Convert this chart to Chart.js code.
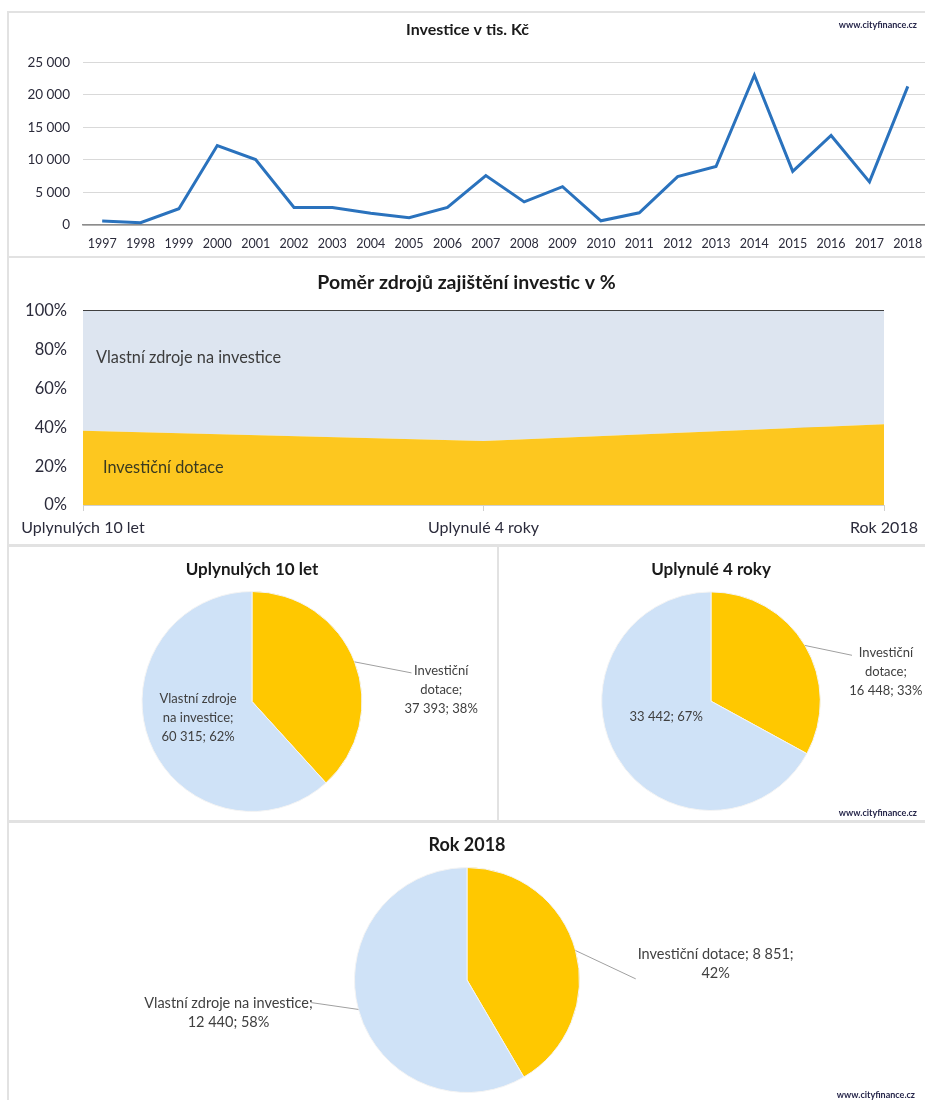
<!DOCTYPE html>
<html>
<head>
<meta charset="utf-8">
<script src="https://cdn.jsdelivr.net/npm/chart.js@4"></script>
<style>
  html, body { margin: 0; padding: 0; background: #fff; overflow: hidden; }
  body { width: 925px; height: 1100px; position: relative; font-family: Lato, "Open Sans", sans-serif; }
  .panel { position: absolute; border: 2px solid #e2e2e2; box-sizing: border-box; }
  canvas { position: absolute; }
  .wm { position: absolute; font: bold 9px Lato, sans-serif; color: #26264a; white-space: nowrap; }
</style>
</head>
<body>
<div class="panel" style="left:7px;top:11px;width:930px;height:247px"></div>
<div class="panel" style="left:7px;top:256px;width:930px;height:291px"></div>
<div class="panel" style="left:7px;top:544px;width:492px;height:279px"></div>
<div class="panel" style="left:497px;top:544px;width:440px;height:279px"></div>
<div class="panel" style="left:7px;top:820px;width:930px;height:290px"></div>

<canvas id="c1" width="920" height="244" style="left:8px;top:12px"></canvas>
<canvas id="c2" width="917" height="287" style="left:8px;top:258px"></canvas>
<canvas id="c3" width="489" height="273" style="left:8px;top:547px"></canvas>
<canvas id="c4" width="428" height="273" style="left:497px;top:547px"></canvas>
<canvas id="c5" width="917" height="278" style="left:8px;top:822px"></canvas>

<div class="wm" style="right:8px;top:19px">www.cityfinance.cz</div>
<div class="wm" style="right:8px;top:807px">www.cityfinance.cz</div>
<div class="wm" style="right:10px;top:1089px">www.cityfinance.cz</div>

<script>
// investice po letech (tis. Kč)
const years = ['1997','1998','1999','2000','2001','2002','2003','2004','2005','2006','2007',
               '2008','2009','2010','2011','2012','2013','2014','2015','2016','2017','2018'];
const investice = [600, 350, 2500, 12200, 10050, 2700, 2700, 1800, 1130, 2700, 7600,
                   3550, 5880, 650, 1880, 7430, 8980, 22998, 8230, 13740, 6629, 21291];

// zdroje financovani
const periods = ['Uplynulých 10 let', 'Uplynulé 4 roky', 'Rok 2018'];
const dotace = [37393, 16448, 8851];
const vlastni = [60315, 33442, 12440];
const sourceNames = ['Investiční dotace', 'Vlastní zdroje na investice'];

const YELLOW_AREA = '#fdc71f';
const BLUE_AREA = '#dde5f0';
const YELLOW_PIE = '#ffc800';
const BLUE_PIE = '#cfe2f7';
const TXT = '#404040';

Chart.defaults.font.family = 'Lato, "Open Sans", sans-serif';
Chart.defaults.color = TXT;
Chart.defaults.animation = false;

function fmt(n) {
  return String(n).replace(/\B(?=(\d{3})+(?!\d))/g, ' ');
}
function pct(a, b) { return a / (a + b) * 100; }

const dotacePct = dotace.map((d, i) => pct(d, vlastni[i]));
const vlastniPct = vlastni.map((v, i) => pct(v, dotace[i]));

// --- 1) line chart
new Chart(document.getElementById('c1'), {
  type: 'line',
  data: {
    labels: years,
    datasets: [{
      data: investice,
      borderColor: '#2a72bd',
      borderWidth: 3,
      pointRadius: 0,
      tension: 0,
      fill: false
    }]
  },
  options: {
    responsive: false,
    layout: { padding: { right: 1 } },
    plugins: {
      legend: { display: false },
      tooltip: { enabled: false },
      title: {
        display: true,
        text: 'Investice v tis. Kč',
        color: '#1a1a1a',
        font: { size: 16, weight: 'bold' },
        padding: { top: 8, bottom: 23 }
      }
    },
    scales: {
      x: {
        offset: true,
        grid: { display: false },
        border: { display: true, color: '#8c8c8c', width: 1.5 },
        ticks: { font: { size: 12.5 }, padding: 3, color: '#2b2b3b', maxRotation: 0, autoSkip: false },
        afterFit(s) { s.height = 31; }
      },
      y: {
        min: 0, max: 25000,
        grid: { color: '#d9d9d9', drawTicks: false },
        border: { display: false },
        ticks: { stepSize: 5000, padding: 13, font: { size: 13.5 }, color: '#2b2b3b', callback: v => fmt(v) },
        afterFit(s) { s.width = 75; }
      }
    }
  }
});

// --- 2) stacked area
const areaLabels = {
  id: 'areaLabels',
  afterDraw(chart, args, opts) {
    const { ctx } = chart;
    const x = chart.scales.x, y = chart.scales.y;
    ctx.save();
    ctx.font = '16.3px Lato, sans-serif';
    ctx.textAlign = 'left';
    ctx.textBaseline = 'middle';
    opts.items.forEach(it => {
      ctx.fillStyle = it.color;
      ctx.fillText(it.text, x.getPixelForValue(0) + it.dx, y.getPixelForValue(it.value));
    });
    ctx.restore();
  }
};

new Chart(document.getElementById('c2'), {
  type: 'line',
  data: {
    labels: periods,
    datasets: [
      { label: sourceNames[0], data: dotacePct, fill: 'origin', backgroundColor: YELLOW_AREA,
        borderWidth: 0, pointRadius: 0, tension: 0 },
      { label: sourceNames[1], data: vlastniPct, fill: '-1', backgroundColor: BLUE_AREA,
        borderWidth: 0, pointRadius: 0, tension: 0 }
    ]
  },
  plugins: [areaLabels],
  options: {
    responsive: false,
    plugins: {
      legend: { display: false },
      tooltip: { enabled: false },
      title: {
        display: true,
        text: 'Poměr zdrojů zajištění investic v %',
        color: '#1a1a1a',
        font: { size: 19.5, weight: 'bold' },
        padding: { top: 13, bottom: 16.5 }
      },
      areaLabels: {
        items: [
          { text: sourceNames[1], value: 75.8, dx: 13, color: '#3c3c3c' },
          { text: sourceNames[0], value: 19.1, dx: 20, color: '#3a3a20' }
        ]
      }
    },
    scales: {
      x: {
        offset: false,
        grid: { drawOnChartArea: false, drawTicks: true, tickLength: 6, color: '#d0d0d0' },
        border: { display: true, color: '#d0d0d0' },
        ticks: { font: { size: 16 }, padding: 7, color: '#2b2b3b', maxRotation: 0, autoSkip: false },
        afterFit(s) { s.height = 40; }
      },
      y: {
        stacked: true,
        min: 0, max: 100,
        z: 1,
        grid: {
          drawTicks: false,
          color: c => c.tick && c.tick.value === 100 ? '#404040' : 'rgba(170,170,170,0.55)',
          lineWidth: c => c.tick && c.tick.value === 100 ? 2 : 1
        },
        border: { display: false },
        ticks: { stepSize: 20, padding: 16, font: { size: 16.5 }, color: '#2b2b3b', callback: v => v + '%' },
        afterFit(s) { s.width = 75; }
      },
      // empty right axis, only keeps space on the right so the title stays centred
      yRight: {
        position: 'right',
        min: 0, max: 100,
        grid: { display: false },
        border: { display: false },
        ticks: { display: false },
        afterFit(s) { s.width = 41; }
      }
    }
  }
});

// --- 3) pies
const pieLabels = {
  id: 'pieLabels',
  afterDatasetsDraw(chart, args, opts) {
    const { ctx } = chart;
    const meta = chart.getDatasetMeta(0);
    ctx.save();
    ctx.font = opts.fontSize + 'px Lato, sans-serif';
    ctx.textAlign = 'center';
    ctx.textBaseline = 'middle';
    opts.items.forEach((item, i) => {
      const arc = meta.data[i];
      const p = arc.getProps(['x', 'y', 'outerRadius', 'startAngle', 'endAngle'], true);
      const r = p.outerRadius;
      const mid = (p.startAngle + p.endAngle) / 2;
      if (item.leader) {
        ctx.strokeStyle = '#a0a0a0';
        ctx.lineWidth = 1;
        ctx.beginPath();
        ctx.moveTo(p.x + Math.cos(mid) * r, p.y + Math.sin(mid) * r);
        ctx.lineTo(p.x + item.leader[0] * r, p.y + item.leader[1] * r);
        ctx.stroke();
      }
      const lx = p.x + item.at[0] * r;
      const ly = p.y + item.at[1] * r;
      ctx.fillStyle = TXT;
      item.lines.forEach((t, k) => {
        ctx.fillText(t, lx, ly + (k - (item.lines.length - 1) / 2) * 19);
      });
    });
    ctx.restore();
  }
};

function pieChart(id, idx, title, titleSize, titlePad, padding, labelSize, items) {
  return new Chart(document.getElementById(id), {
    type: 'pie',
    data: {
      labels: sourceNames,
      datasets: [{
        data: [dotace[idx], vlastni[idx]],
        backgroundColor: [YELLOW_PIE, BLUE_PIE],
        borderColor: '#f4f4f4',
        borderWidth: 1
      }]
    },
    plugins: [pieLabels],
    options: {
      responsive: false,
      layout: { padding: padding },
      plugins: {
        legend: { display: false },
        tooltip: { enabled: false },
        title: {
          display: true,
          text: title,
          color: '#1a1a1a',
          font: { size: titleSize, weight: 'bold' },
          padding: titlePad
        },
        pieLabels: { fontSize: labelSize, items: items }
      }
    }
  });
}

function pctTxt(idx, which) {
  const v = which === 0 ? dotace[idx] : vlastni[idx];
  const p = which === 0 ? dotacePct[idx] : vlastniPct[idx];
  return fmt(v) + '; ' + Math.round(p) + '%';
}

pieChart('c3', 0, periods[0], 17, { top: 0, bottom: 11.6 }, { top: 12, bottom: 8, left: 133, right: 134 }, 13, [
  { lines: ['Investiční', 'dotace;', pctTxt(0, 0)], at: [1.72, -0.11], leader: [1.45, -0.26] },
  { lines: ['Vlastní zdroje', 'na investice;', pctTxt(0, 1)], at: [-0.49, 0.15] }
]);

pieChart('c4', 1, periods[1], 17, { top: 0, bottom: 12 }, { top: 12, bottom: 9, left: 104, right: 104 }, 13, [
  { lines: ['Investiční', 'dotace;', pctTxt(1, 0)], at: [1.60, -0.27], leader: [1.29, -0.42] },
  { lines: [pctTxt(1, 1)], at: [-0.41, 0.14] }
]);

pieChart('c5', 2, periods[2], 18, { top: 0, bottom: 11.4 }, { top: 12, bottom: 7, left: 346, right: 345 }, 14.5, [
  { lines: [sourceNames[0] + '; ' + fmt(dotace[2]) + ';', Math.round(dotacePct[2]) + '%'],
    at: [2.21, -0.14], leader: [1.50, -0.01] },
  { lines: [sourceNames[1] + ';', pctTxt(2, 1)], at: [-2.12, 0.29], leader: [-1.39, 0.20] }
]);
</script>
</body>
</html>
